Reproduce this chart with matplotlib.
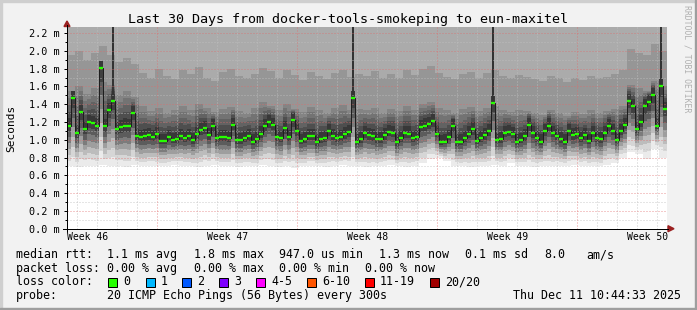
import numpy as np
import matplotlib
matplotlib.use("Agg")
import matplotlib.pyplot as plt
from matplotlib.patches import Rectangle, Polygon
from matplotlib.lines import Line2D
from matplotlib.transforms import IdentityTransform

W, H, DPI = 697, 310, 100
PX = 72.0 / DPI   # one pixel in points

plt.rcParams['font.family'] = ['DejaVu Sans Mono']

title = "Last 30 Days from docker-tools-smokeping to eun-maxitel"

# median rtt in ms, one value per 4.8 h (150 points over 30 days)
median_ms = [
    1.16, 1.47, 1.08, 1.31, 1.12, 1.20, 1.19, 1.16, 1.81, 1.15,
    1.33, 1.44, 1.12, 1.14, 1.16, 1.15, 1.30, 1.04, 1.03, 1.04,
    1.05, 1.03, 1.06, 0.99, 0.99, 1.03, 1.00, 1.01, 1.04, 1.02,
    1.04, 1.00, 1.06, 1.11, 1.13, 1.05, 1.15, 1.02, 1.03, 1.03,
    1.02, 1.17, 1.00, 1.00, 1.02, 1.04, 0.98, 1.01, 1.07, 1.15,
    1.20, 1.17, 1.03, 1.02, 1.13, 1.03, 1.22, 1.10, 0.99, 1.01,
    1.04, 1.04, 0.97, 1.01, 1.02, 1.10, 1.04, 1.02, 1.03, 1.06,
    1.09, 1.47, 0.98, 1.01, 1.08, 1.05, 1.04, 1.01, 1.01, 1.05,
    1.09, 1.08, 0.97, 1.02, 1.08, 1.07, 1.02, 1.03, 1.14, 1.16,
    1.18, 1.21, 1.07, 0.97, 0.98, 1.03, 1.15, 0.97, 0.98, 1.02,
    1.07, 1.12, 0.99, 1.02, 1.05, 1.10, 1.41, 1.00, 1.01, 1.08,
    1.09, 1.06, 0.98, 1.00, 1.04, 1.17, 1.08, 1.02, 0.98, 1.10,
    1.16, 1.08, 1.04, 1.01, 0.98, 1.10, 1.05, 1.06, 1.02, 1.05,
    0.99, 1.08, 1.02, 1.01, 1.08, 1.15, 1.10, 1.00, 1.10, 1.17,
    1.44, 1.38, 1.12, 1.20, 1.38, 1.42, 1.50, 1.16, 1.60, 1.35,
]

# smoke (ping spread) in ms, one value per 9.6 h (75 points)
smoke_min = [
    0.70, 0.69, 0.71, 0.70, 0.72, 0.70, 0.71, 0.69, 0.72, 0.70,
    0.71, 0.70, 0.70, 0.72, 0.71, 0.70, 0.69, 0.71, 0.72, 0.70,
    0.71, 0.69, 0.70, 0.70, 0.72, 0.71, 0.69, 0.70, 0.68, 0.70,
    0.71, 0.70, 0.69, 0.71, 0.72, 0.70, 0.71, 0.69, 0.70, 0.71,
    0.72, 0.70, 0.69, 0.71, 0.74, 0.78, 0.79, 0.76, 0.71, 0.70,
    0.69, 0.71, 0.70, 0.72, 0.71, 0.74, 0.71, 0.70, 0.69, 0.71,
    0.70, 0.71, 0.70, 0.72, 0.71, 0.70, 0.70, 0.72, 0.74, 0.80,
    0.86, 0.84, 0.78, 0.90, 0.80,
]
smoke_mid = [
    1.55, 1.60, 1.52, 1.58, 1.65, 1.62, 1.50, 1.55, 1.48,
    1.38, 1.32, 1.36, 1.30, 1.34, 1.38, 1.33, 1.40, 1.36, 1.31, 1.35, 1.37, 1.32, 1.30,
    1.36, 1.42, 1.38, 1.33, 1.40, 1.35, 1.31, 1.37, 1.34, 1.30, 1.36, 1.39, 1.33, 1.35,
    1.33, 1.36, 1.30, 1.35, 1.32, 1.38, 1.34, 1.40, 1.42, 1.36, 1.33, 1.30, 1.35, 1.37,
    1.32, 1.36, 1.38, 1.33, 1.31, 1.34,
    1.32, 1.30, 1.28, 1.33, 1.30, 1.27, 1.31, 1.29, 1.33, 1.30, 1.32, 1.35, 1.38,
    1.62, 1.58, 1.55, 1.66, 1.60,
]
smoke_upper = [
    1.95, 2.00, 1.90, 1.98, 2.05, 1.95, 1.88, 1.92, 1.85,
    1.75, 1.70, 1.80, 1.72, 1.68, 1.78, 1.74, 1.82, 1.70, 1.66, 1.76, 1.80, 1.72, 1.69,
    1.74, 1.81, 1.77, 1.70, 1.78, 1.73, 1.67, 1.76, 1.72, 1.68, 1.75, 1.79, 1.71, 1.74,
    1.72, 1.77, 1.69, 1.74, 1.70, 1.78, 1.73, 1.80, 1.83, 1.75, 1.71, 1.68, 1.74, 1.76,
    1.70, 1.75, 1.79, 1.72, 1.69, 1.73,
    1.71, 1.68, 1.66, 1.72, 1.69, 1.65, 1.70, 1.67, 1.72, 1.69, 1.71, 1.74, 1.78,
    2.02, 1.98, 1.95, 2.08, 2.00,
]
# median columns where the whole ping spread ran off the top of the chart
spread_cols = [11, 71, 106, 148]

week_labels = ["Week 46", "Week 47", "Week 48", "Week 49", "Week 50"]
week_label_days = [1.05, 8.05, 15.05, 22.05, 29.05]
week_start_days = [4.5, 11.5, 18.5, 25.5]

rtt_texts = ["median rtt:", "1.1 ms avg", "1.8 ms max", "947.0 us min",
             "1.3 ms now", "0.1 ms sd", "8.0", "am/s"]
rtt_x = [16, 107, 194, 279, 379, 465, 544, 586]
loss_texts = ["packet loss:", "0.00 % avg", "0.00 % max", "0.00 % min", "0.00 % now"]
loss_x = [16, 107, 194, 279, 365]
loss_labels = ["0", "1", "2", "3", "4-5", "6-10", "11-19", "20/20"]
loss_colors = ["#26ff00", "#00b8ff", "#0059ff", "#7e00ff",
               "#ff00ff", "#ff5500", "#ff0000", "#a10000"]
loss_box_x = [108, 146, 182, 219, 256, 307, 365, 430]
probe_text = "20 ICMP Echo Pings (56 Bytes) every 300s"
stamp = "Thu Dec 11 10:44:33 2025"

YMAX = 2.268

fig = plt.figure(figsize=(W / DPI, H / DPI), dpi=DPI, facecolor="#f2f2f2")
ax = fig.add_axes([67 / W, (H - 228.7) / H, 600 / W, 201.7 / H])
ax.set_facecolor("white")
ax.set_xlim(0, 30)
ax.set_ylim(0, YMAX)

med = np.array(median_ms)
n = len(med)
step = 30.0 / n
xl = np.arange(n) * step
xc = xl + step / 2
k = np.arange(n) // 2
lo = np.array(smoke_min)[k]
mid = np.array(smoke_mid)[k]
up = np.array(smoke_upper)[k]


def band(b, t, color):
    ax.bar(xl, np.clip(t - b, 0, None), bottom=b, width=step, align="edge",
           color=color, linewidth=0, antialiased=False, zorder=1)


# smoke below the median, light to dark
low_cols = ["#ebebeb", "#d6d6d6", "#bcbcbc", "#9e9e9e", "#7c7c7c", "#5c5c5c", "#404040"]
for j, c in enumerate(low_cols):
    f0, f1 = j / len(low_cols), (j + 1) / len(low_cols)
    band(lo + (med - lo) * f0, lo + (med - lo) * f1, c)

# smoke above the median
top = np.full(n, YMAX + 0.1)
band(np.maximum(up, med), top, "#ababab")
band(np.maximum(mid, med), np.maximum(up, med), "#969696")
dk = med + 0.08
band(med, dk, "#383838")
up_cols = ["#4e4e4e", "#626262", "#737373", "#848484"]
for j, c in enumerate(up_cols):
    f0, f1 = j / len(up_cols), (j + 1) / len(up_cols)
    band(dk + (mid - dk) * f0, dk + (mid - dk) * f1, c)

sc = np.array(spread_cols)
ax.vlines(xc[sc], med[sc], YMAX, color="#333333", lw=2 * PX, zorder=2)

# grid
dots = (0, (1, 2))
for v in np.arange(0.1, 2.25, 0.2):
    ax.axhline(v, color="#c0c0c0", lw=PX, ls=dots, alpha=0.8, zorder=3)
for d in np.arange(0.5, 30, 1.0):
    if d not in week_start_days:
        ax.axvline(d, color="#c0c0c0", lw=PX, ls=dots, alpha=0.8, zorder=3)
for v in np.arange(0.2, 2.25, 0.2):
    ax.axhline(v, color="#e06a6a", lw=PX, ls=dots, alpha=0.7, zorder=3)
for d in week_start_days:
    ax.axvline(d, color="#e06a6a", lw=PX, ls=dots, alpha=0.7, zorder=3)

# median line and loss coloured dashes
ax.step(xc, med, where="mid", color="#1e1e1e", lw=PX, zorder=4)
ax.plot(xc, med, ls="none", marker="_", ms=4 * PX, mew=2.3 * PX,
        color=loss_colors[0], zorder=5)

for s in ax.spines.values():
    s.set_visible(False)
yt = np.arange(0, 2.21, 0.2)
ax.set_yticks(yt)
ax.set_yticklabels([f"{v:.1f} m" for v in yt])
ax.set_yticks(np.arange(0.1, 2.25, 0.2), minor=True)
ax.tick_params(axis="y", which="major", length=3 * PX, width=PX, pad=4 * PX,
               labelsize=7.3, direction="out")
ax.tick_params(axis="y", which="minor", length=2 * PX, width=PX, direction="out")
ax.set_xticks(week_label_days)
ax.set_xticklabels(week_labels)
ax.tick_params(axis="x", length=0, pad=3.5 * PX, labelsize=7.0)

ID = IdentityTransform()


def P(x, y):
    return x, H - y


# axes and arrows
fig.add_artist(Line2D([63, 668], [H - 228.5, H - 228.5], color="black", lw=PX, transform=ID))
fig.add_artist(Line2D([66.5, 66.5], [H - 231, H - 25], color="black", lw=PX, transform=ID))
fig.add_artist(Polygon([P(64, 26.5), P(70, 26.5), P(67, 21)], closed=True,
                       color="#9b2020", transform=ID))
fig.add_artist(Polygon([P(668, 225.7), P(668, 231.7), P(674, 228.7)], closed=True,
                       color="#9b2020", transform=ID))

# border
fig.add_artist(Rectangle((0, H - 2), W, 2, color="#cfcfcf", transform=ID))
fig.add_artist(Rectangle((0, 0), 2, H, color="#cfcfcf", transform=ID))
fig.add_artist(Rectangle((0, 0), W, 2, color="#9e9e9e", transform=ID))
fig.add_artist(Rectangle((W - 2, 0), 2, H, color="#9e9e9e", transform=ID))

fig.text(347.5 / W, 1 - 19 / H, title, ha="center", va="center", fontsize=9.6)
fig.text(11 / W, 1 - 128 / H, "Seconds", rotation=90, ha="center", va="center", fontsize=8)
fig.text(687 / W, 1 - 59 / H, "RRDTOOL / TOBI OETIKER", rotation=270,
         ha="center", va="center", fontsize=5.9, color="#b0b0b0")

LEG = 8.4
for t, x in zip(rtt_texts, rtt_x):
    fig.text(x / W, 1 - 258 / H, t, ha="left", va="baseline", fontsize=LEG)
for t, x in zip(loss_texts, loss_x):
    fig.text(x / W, 1 - 271.7 / H, t, ha="left", va="baseline", fontsize=LEG)
fig.text(16 / W, 1 - 285.3 / H, "loss color:", ha="left", va="baseline", fontsize=LEG)
for lab, col, x in zip(loss_labels, loss_colors, loss_box_x):
    fig.add_artist(Rectangle(P(x, 286.5), 8.5, 8.5, facecolor=col, edgecolor="black",
                             lw=PX, transform=ID))
    fig.text((x + 15) / W, 1 - 285.3 / H, lab, ha="left", va="baseline", fontsize=LEG)
fig.text(16 / W, 1 - 299 / H, "probe:", ha="left", va="baseline", fontsize=LEG)
fig.text(107 / W, 1 - 299 / H, probe_text, ha="left", va="baseline", fontsize=LEG)
fig.text(681 / W, 1 - 299 / H, stamp, ha="right", va="baseline", fontsize=LEG)

fig.savefig("out.png", dpi=DPI, facecolor=fig.get_facecolor())
